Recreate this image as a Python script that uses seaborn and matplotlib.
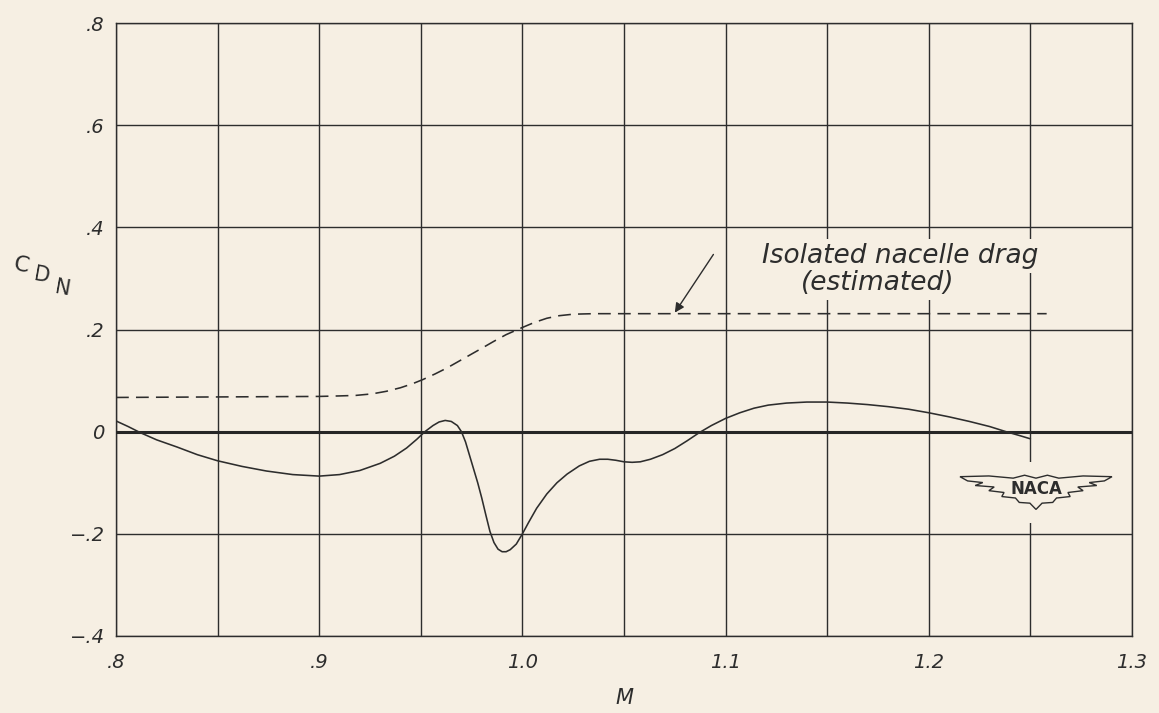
import matplotlib
matplotlib.use("Agg")
import matplotlib.pyplot as plt
from matplotlib.patches import Polygon, Rectangle
import seaborn as sns
import pandas as pd

# Nacelle drag coefficient against Mach number
mach_measured = [0.800, 0.806, 0.812, 0.820, 0.830, 0.840, 0.850, 0.862, 0.874, 0.887,
                 0.900, 0.910, 0.920, 0.930, 0.937, 0.943, 0.948, 0.952, 0.956, 0.959,
                 0.962, 0.965, 0.968, 0.970, 0.972, 0.975, 0.978, 0.980, 0.982, 0.984,
                 0.986, 0.988, 0.990, 0.992, 0.994, 0.997, 1.000, 1.003, 1.007, 1.012,
                 1.017, 1.022, 1.028, 1.033, 1.038, 1.042, 1.046, 1.050, 1.054, 1.058,
                 1.063, 1.069, 1.075, 1.081, 1.087, 1.093, 1.100, 1.107, 1.114, 1.121,
                 1.130, 1.140, 1.150, 1.160, 1.170, 1.180, 1.190, 1.200, 1.210, 1.220,
                 1.230, 1.238, 1.245, 1.250]
cdn_measured = [0.021, 0.010, -0.002, -0.016, -0.030, -0.045, -0.057, -0.068, -0.077, -0.084,
                -0.087, -0.084, -0.076, -0.062, -0.048, -0.032, -0.015, 0.000, 0.012, 0.019,
                0.022, 0.020, 0.012, 0.000, -0.020, -0.060, -0.100, -0.130, -0.163, -0.195,
                -0.217, -0.230, -0.235, -0.235, -0.231, -0.220, -0.200, -0.178, -0.150, -0.122,
                -0.100, -0.083, -0.067, -0.058, -0.054, -0.054, -0.056, -0.059, -0.060, -0.059,
                -0.054, -0.045, -0.033, -0.018, -0.002, 0.012, 0.026, 0.037, 0.046, 0.052,
                0.056, 0.058, 0.058, 0.056, 0.053, 0.049, 0.044, 0.037, 0.029, 0.020,
                0.010, 0.000, -0.008, -0.014]

mach_isolated = [0.800, 0.850, 0.900, 0.910, 0.918, 0.926, 0.933, 0.940, 0.946, 0.951,
                 0.957, 0.963, 0.971, 0.979, 0.986, 0.992, 1.000, 1.006, 1.012, 1.018,
                 1.025, 1.035, 1.258]
cdn_isolated = [0.067, 0.068, 0.069, 0.070, 0.071, 0.074, 0.079, 0.086, 0.094, 0.102,
                0.113, 0.125, 0.143, 0.161, 0.177, 0.190, 0.204, 0.214, 0.222, 0.227,
                0.230, 0.231, 0.231]

x_ticks = [0.8, 0.9, 1.0, 1.1, 1.2, 1.3]
x_tick_labels = [".8", ".9", "1.0", "1.1", "1.2", "1.3"]
x_minor = [0.85, 0.95, 1.05, 1.15, 1.25]
y_ticks = [-0.4, -0.2, 0.0, 0.2, 0.4, 0.6, 0.8]
y_tick_labels = ["\u2212.4", "\u2212.2", "0", ".2", ".4", ".6", ".8"]

paper = "#f6efe3"
ink = "#2d2d2d"

sns.set_style("white", {"axes.facecolor": paper, "figure.facecolor": paper})
plt.rcParams["font.family"] = ["DejaVu Sans"]

fig = plt.figure(figsize=(11.59, 7.13), dpi=100)
ax = fig.add_axes([0.1001, 0.108, 0.8766, 0.8597])
ax.set_facecolor(paper)

measured = pd.DataFrame({"M": mach_measured, "CDN": cdn_measured})
isolated = pd.DataFrame({"M": mach_isolated, "CDN": cdn_isolated})

sns.lineplot(data=measured, x="M", y="CDN", ax=ax, color=ink, lw=1.15, zorder=4)
sns.lineplot(data=isolated, x="M", y="CDN", ax=ax, color=ink, lw=1.15,
             linestyle=(0, (8, 4.5)), zorder=4)

ax.set_xlim(0.8, 1.3)
ax.set_ylim(-0.4, 0.8)
ax.set_xticks(x_ticks)
ax.set_xticks(x_minor, minor=True)
ax.set_yticks(y_ticks)
ax.grid(True, which="both", axis="x", color=ink, lw=1.0, zorder=1)
ax.grid(True, which="major", axis="y", color=ink, lw=1.0, zorder=1)
ax.set_axisbelow(True)
ax.axhline(0, color="#262626", lw=2.2, zorder=3)

for s in ax.spines.values():
    s.set_color(ink)
    s.set_linewidth(1.0)

tick_font = dict(fontsize=14, fontstyle="italic", color=ink)
ax.set_xticklabels(x_tick_labels, **tick_font)
ax.set_yticklabels(y_tick_labels, **tick_font)
ax.tick_params(axis="both", which="both", length=0)
ax.tick_params(axis="x", pad=12)
ax.tick_params(axis="y", pad=8)

ax.set_xlabel("M", fontsize=15, fontstyle="italic", color=ink, labelpad=12)
ax.set_ylabel("")

# C_DN axis title, lettered with stepped subscripts
fig.text(0.010, 0.618, "C", fontsize=16, color=ink, rotation=-10)
fig.text(0.028, 0.604, "D", fontsize=15, color=ink, rotation=-10)
fig.text(0.046, 0.586, "N", fontsize=15, color=ink, rotation=-10)

# Label for the isolated-nacelle estimate
label_box = dict(boxstyle="square,pad=0.15", facecolor=paper, edgecolor="none")
ax.text(1.186, 0.331, "Isolated nacelle drag", ha="center", va="baseline",
        fontsize=19, fontstyle="italic", color=ink, bbox=label_box, zorder=5)
ax.text(1.175, 0.278, "(estimated)", ha="center", va="baseline",
        fontsize=19, fontstyle="italic", color=ink, bbox=label_box, zorder=5)
ax.annotate("", xy=(1.075, 0.233), xytext=(1.094, 0.347),
            arrowprops=dict(arrowstyle="-|>", color=ink, lw=1.0,
                            mutation_scale=14, shrinkA=0, shrinkB=0),
            zorder=6)

# NACA wings emblem in the lower right
cx, cy, hw, hh = 0.9055, 0.2365, 0.0748, 0.030
ax.add_patch(Rectangle((cx - 0.045, cy - 0.052), 0.09, 0.100, transform=ax.transAxes,
                       facecolor=paper, edgecolor="none", zorder=2))
half = [(0.0, 0.70), (0.15, 0.86), (0.30, 0.70), (0.62, 0.82), (1.0, 0.78),
        (0.90, 0.55), (0.70, 0.46), (0.80, 0.30), (0.55, 0.22), (0.62, 0.02),
        (0.42, -0.08), (0.45, -0.30), (0.27, -0.38), (0.22, -0.62), (0.08, -0.66),
        (0.0, -1.0)]
outline = [(u, v) for u, v in half] + [(-u, v) for u, v in reversed(half)]
pts = [(cx + u * hw, cy + v * hh) for u, v in outline]
ax.add_patch(Polygon(pts, closed=True, transform=ax.transAxes, facecolor=paper,
                     edgecolor=ink, lw=1.0, zorder=5))
ax.text(cx, cy + 0.004, "NACA", transform=ax.transAxes, ha="center", va="center",
        fontsize=12, fontweight="bold", color=ink, zorder=6)

fig.savefig("out.png", dpi=100, facecolor=paper)
